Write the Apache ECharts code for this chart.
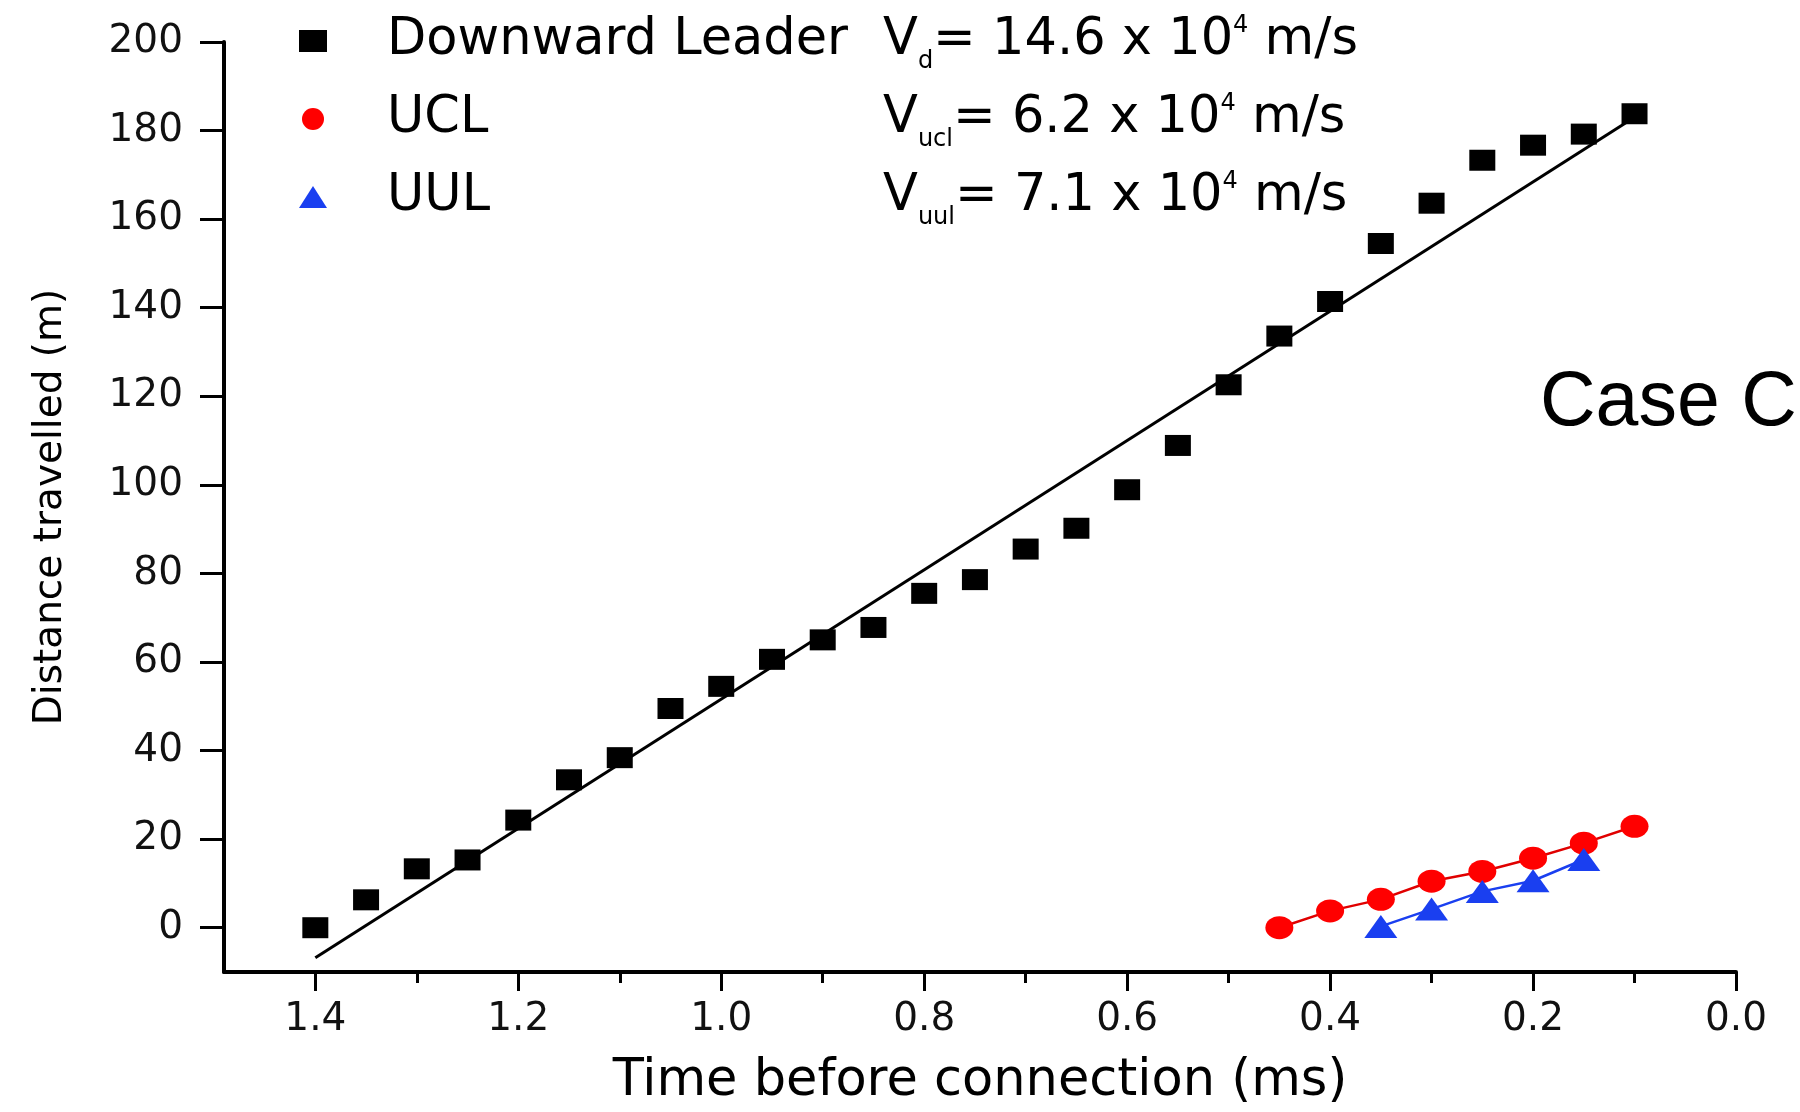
<!DOCTYPE html>
<html>
<head>
<meta charset="utf-8">
<title>Case C</title>
<script src="https://cdn.jsdelivr.net/npm/echarts@6/dist/echarts.min.js"></script>
<style>
    html, body { margin: 0; padding: 0; background: #fff; }
    #chart { width: 1800px; height: 1112px; }
</style>
</head>
<body>
<div id="chart"></div>
<script>
    // time before connection (ms) and distance travelled (m)
    const leaderTime = [1.40, 1.35, 1.30, 1.25, 1.20, 1.15, 1.10, 1.05, 1.00, 0.95, 0.90, 0.85, 0.80, 0.75,
        0.70, 0.65, 0.60, 0.55, 0.50, 0.45, 0.40, 0.35, 0.30, 0.25, 0.20, 0.15, 0.10]
    const leaderDist = [0, 6.3, 13.3, 15.3, 24.3, 33.4, 38.4, 49.5, 54.5, 60.6, 65.0, 67.8, 75.5, 78.6,
        85.5, 90.2, 98.9, 108.9, 122.6, 133.6, 141.4, 154.5, 163.6, 173.3, 176.7, 179.2, 183.8]

    const uclTime = [0.45, 0.40, 0.35, 0.30, 0.25, 0.20, 0.15, 0.10]
    const uclDist = [0, 3.8, 6.4, 10.5, 12.7, 15.7, 19.1, 22.9]

    const uulTime = [0.35, 0.30, 0.25, 0.20, 0.15]
    const uulDist = [0.3, 4.2, 8.2, 10.6, 15.4]

    // linear fit of the downward leader (end points)
    const fitTime = [1.40, 0.10]
    const fitDist = [-6.8, 183.0]

    const seriesNames = ['Downward Leader', 'UCL', 'UUL']
    const speedSubs = ['d', 'ucl', 'uul']
    const speeds = [14.6, 6.2, 7.1]

    const xMajorTicks = [0, 0.2, 0.4, 0.6, 0.8, 1.0, 1.2, 1.4]
    const xMinorTicks = [0.1, 0.3, 0.5, 0.7, 0.9, 1.1, 1.3]
    const yTicks = [0, 20, 40, 60, 80, 100, 120, 140, 160, 180, 200]

    const pairs = (xs, ys) => xs.map((x, i) => [x, ys[i]])

    const ellipse = 'path://M0,10 A10,10 0 1,1 20,10 A10,10 0 1,1 0,10 Z'
    const wideFont = 'DejaVu Sans'

    const chart = echarts.init(document.getElementById('chart'))

    chart.setOption({
        animation: false,
        backgroundColor: '#fff',
        grid: {
            left: 224,
            right: 64,
            top: 42,
            bottom: 139
        },
        legend: {
            orient: 'vertical',
            left: 294,
            top: 3,
            itemWidth: 28,
            itemHeight: 22,
            itemGap: 12,
            selectedMode: false,
            data: [
                { name: 'Downward Leader', icon: 'rect' },
                { name: 'UCL', icon: ellipse },
                { name: 'UUL', icon: 'triangle' }
            ],
            formatter: function (name) {
                const i = seriesNames.indexOf(name)
                return '{gap| }{n|' + name + '}{v|V}{sub|' + speedSubs[i] + '}{v|= ' +
                    speeds[i].toFixed(1) + ' x 10}{sup|4}{v| m/s}'
            },
            textStyle: {
                color: '#000',
                fontFamily: wideFont,
                rich: {
                    gap: { width: 55, fontSize: 50, lineHeight: 66 },
                    n: { width: 496, fontSize: 51, lineHeight: 66, fontFamily: wideFont, color: '#000' },
                    v: { fontSize: 51, lineHeight: 66, fontFamily: wideFont, color: '#000' },
                    sub: { fontSize: 24, lineHeight: 24, verticalAlign: 'bottom', fontFamily: wideFont, color: '#000' },
                    sup: { fontSize: 24, lineHeight: 24, verticalAlign: 'top', padding: [6, 0, 0, 0], fontFamily: wideFont, color: '#000' }
                }
            }
        },
        graphic: [{
            type: 'text',
            x: 1540,
            y: 404,
            style: {
                text: 'Case C',
                fontFamily: 'Liberation Sans',
                fontSize: 77,
                fill: '#000',
                align: 'left',
                verticalAlign: 'middle'
            }
        }],
        xAxis: [{
            type: 'value',
            min: 0,
            max: 1.49,
            inverse: true,
            position: 'bottom',
            name: 'Time before connection (ms)',
            nameLocation: 'middle',
            nameGap: 84,
            nameTextStyle: { fontFamily: wideFont, fontSize: 51, color: '#000' },
            axisLine: { show: true, onZero: false, lineStyle: { color: '#000', width: 4 } },
            axisTick: {
                show: true,
                inside: false,
                length: 19,
                lineStyle: { color: '#000', width: 3 },
                customValues: xMajorTicks
            },
            axisLabel: {
                margin: 28,
                fontFamily: wideFont,
                fontSize: 39,
                color: '#111',
                customValues: xMajorTicks,
                formatter: v => v.toFixed(1)
            },
            splitLine: { show: false }
        }, {
            // minor ticks only
            type: 'value',
            min: 0,
            max: 1.49,
            inverse: true,
            position: 'bottom',
            offset: 0,
            axisLine: { show: false, onZero: false },
            axisTick: {
                show: true,
                inside: false,
                length: 11,
                lineStyle: { color: '#000', width: 3 },
                customValues: xMinorTicks
            },
            axisLabel: { show: false },
            splitLine: { show: false }
        }],
        yAxis: {
            type: 'value',
            min: -10,
            max: 200,
            position: 'left',
            name: 'Distance travelled (m)',
            nameLocation: 'middle',
            nameGap: 154,
            nameTextStyle: { fontFamily: wideFont, fontSize: 39, color: '#000' },
            axisLine: { show: true, onZero: false, lineStyle: { color: '#000', width: 4 } },
            axisTick: {
                show: true,
                inside: false,
                length: 24,
                lineStyle: { color: '#000', width: 3 },
                customValues: yTicks
            },
            axisLabel: {
                margin: 41,
                fontFamily: wideFont,
                fontSize: 39,
                color: '#111',
                customValues: yTicks
            },
            splitLine: { show: false }
        },
        series: [{
            name: 'fit',
            type: 'line',
            data: pairs(fitTime, fitDist),
            symbol: 'none',
            silent: true,
            z: 1,
            lineStyle: { color: '#000', width: 3 }
        }, {
            name: 'Downward Leader',
            type: 'scatter',
            data: pairs(leaderTime, leaderDist),
            symbol: 'rect',
            symbolSize: [26, 21],
            z: 3,
            itemStyle: { color: '#000', opacity: 1 }
        }, {
            name: 'UCL',
            type: 'line',
            data: pairs(uclTime, uclDist),
            symbol: ellipse,
            symbolSize: [28, 23],
            z: 3,
            itemStyle: { color: '#ff0000' },
            lineStyle: { color: '#e00000', width: 2.5 }
        }, {
            name: 'UUL',
            type: 'line',
            data: pairs(uulTime, uulDist),
            symbol: 'triangle',
            symbolSize: [33, 23],
            z: 3,
            itemStyle: { color: '#1a3ff0' },
            lineStyle: { color: '#1a3ff0', width: 2.5 }
        }]
    })
</script>
</body>
</html>
